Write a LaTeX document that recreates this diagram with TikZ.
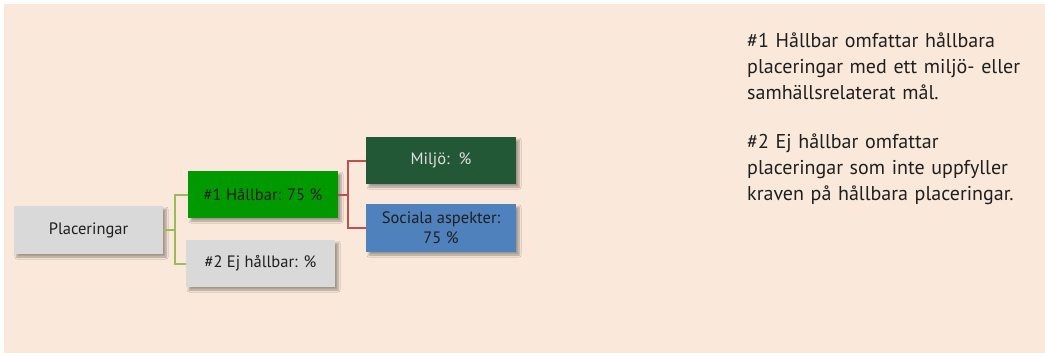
\documentclass[tikz,border=0pt]{standalone}
\usepackage{fontspec}
\setmainfont{PT Sans}[Ligatures=NoCommon]
\usetikzlibrary{shadows.blur}
\definecolor{bgc}{HTML}{FAE9DA}
\definecolor{boxgray}{HTML}{D9D9D9}
\definecolor{boxgreen}{HTML}{009900}
\definecolor{boxdark}{HTML}{235837}
\definecolor{boxblue}{HTML}{4F81BD}
\definecolor{lgreen}{HTML}{9BBB59}
\definecolor{lred}{HTML}{C0504D}
\definecolor{txt}{HTML}{1F1F1F}
\tikzset{
  box/.style={minimum width=150pt, minimum height=47pt, inner sep=2pt, align=center,
    font=\fontsize{16.5}{20}\selectfont, text=txt,
    blur shadow={shadow xshift=3pt, shadow yshift=-3pt, shadow blur steps=6, shadow opacity=35}},
  glink/.style={draw=lgreen, line width=2pt},
  rlink/.style={draw=lred, line width=2pt},
  note/.style={anchor=north west, align=left, text width=300pt, inner sep=0pt,
    font=\fontsize{20}{26}\selectfont, text=txt}
}
\begin{document}
\begin{tikzpicture}[x=1pt,y=-1pt]
\useasboundingbox (0,0) rectangle (1045,356);
\fill[bgc] (4,4) rectangle (1045,353);
\node[box, fill=boxgray, minimum width=149pt, minimum height=48pt] (plac) at (88.5,230) {Placeringar};
\node[box, fill=boxgreen] (h1) at (263,194.5) {\#1 Hållbar: 75 \%};
\node[box, fill=boxgray, minimum width=149pt] (h2) at (260.5,263.5) {\#2 Ej hållbar: \%};
\node[box, fill=boxdark, text=white!88!black] (milj) at (441,160.5) {Miljö:\ \ \%};
\node[box, fill=boxblue, minimum height=48pt] (soc) at (441,228) {Sociala aspekter:\\75 \%};
\draw[glink] (plac.east) -- ++(12,0) |- (h1.west);
\draw[glink] (plac.east) -- ++(12,0) |- (h2.west);
\draw[rlink] (h1.east) -- ++(10,0) |- (milj.west);
\draw[rlink] (h1.east) -- ++(10,0) |- (soc.west);
\node[note] (n1) at (747,33) {\#1 Hållbar omfattar hållbara\\placeringar med ett miljö- eller\\samhällsrelaterat mål.};
\node[note] (n2) at (747,134) {\#2 Ej hållbar omfattar\\placeringar som inte uppfyller\\kraven på hållbara placeringar.};
\end{tikzpicture}
\end{document}
